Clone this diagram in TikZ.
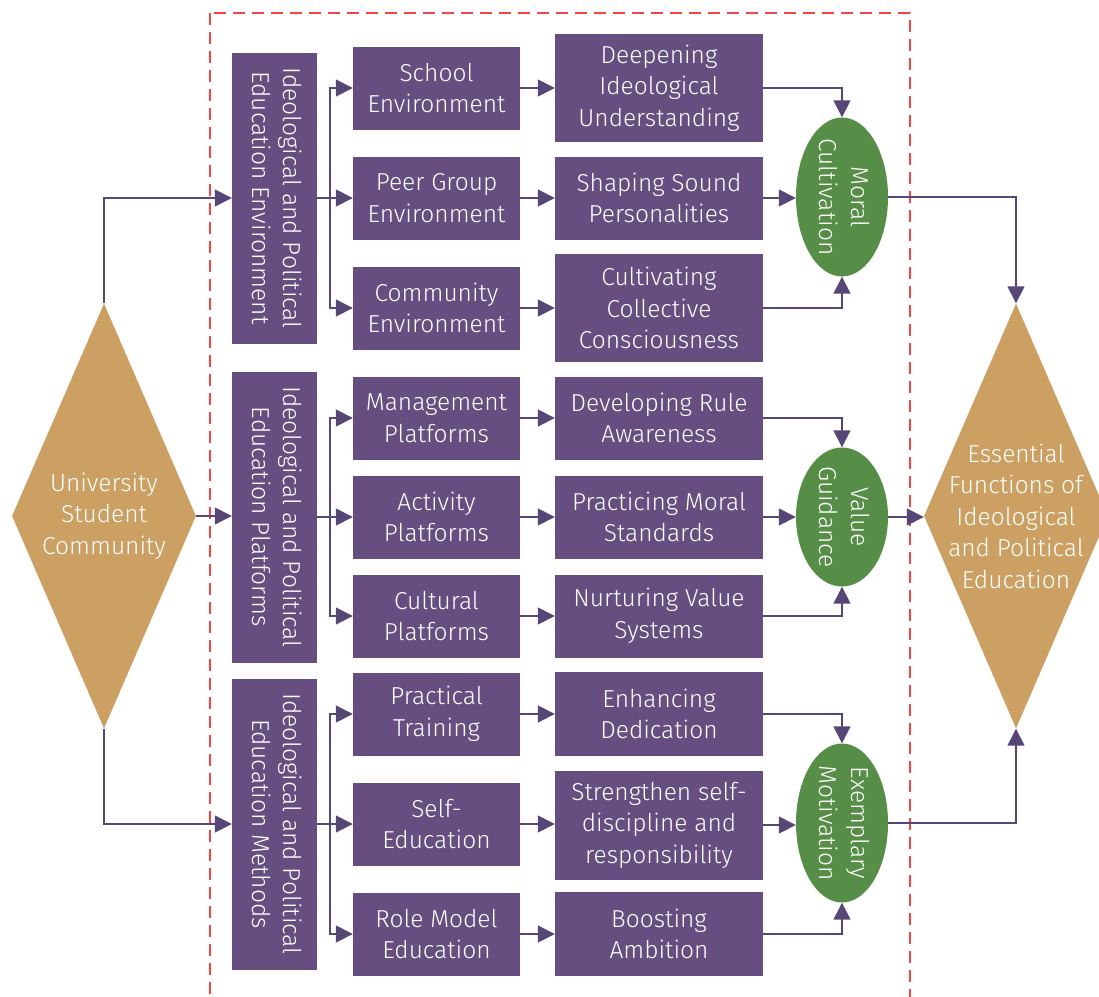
\documentclass[tikz,border=0pt]{standalone}
\usepackage{fontspec}
\setmainfont{Fira Sans Light}
\usepackage{graphicx}
\usetikzlibrary{arrows.meta, positioning, shapes.geometric}
\definecolor{plum}{HTML}{664F80}
\definecolor{wire}{HTML}{574777}
\definecolor{leaf}{HTML}{578E47}
\definecolor{sand}{HTML}{CBA062}
\definecolor{frame}{HTML}{F24444}
\newcommand{\vlabel}[1]{\rotatebox{-90}{\begin{tabular}{@{}c@{}}#1\end{tabular}}}

\begin{document}
\begin{tikzpicture}[x=1pt, y=-1pt,
    font=\fontsize{24.5}{31.5}\selectfont,
    say/.style={align=center, text=white},
    box/.style={rectangle, fill=plum, text=white, align=center, inner sep=0pt},
    hub/.style={ellipse, fill=leaf, minimum width=92pt, minimum height=159pt, inner sep=0pt},
    gem/.style={diamond, fill=sand, minimum width=184pt, minimum height=425pt, inner sep=0pt},
    link/.style={draw=wire, line width=1.5pt, -{Triangle[length=17pt, width=17pt]}}]
  \useasboundingbox (0,0) rectangle (1099,996);
  \clip (0,0) rectangle (1099,996);
  % dashed frame
  \draw[frame, line width=1.5pt, dash pattern=on 12pt off 7pt] (210,13) rectangle (910,1012);
  % start and goal
  \node[gem, label={[say]center:University\\Student\\Community}] (crowd) at (104,516) {};
  \node[gem, label={[say]center:Essential\\Functions of\\Ideological\\and Political\\Education}] (aim) at (1016,516) {};
  % first column
  \foreach \n/\y/\t in {env/198/{Ideological and Political\\Education Environment},
                        plat/517/{Ideological and Political\\Education Platforms},
                        meth/824/{Ideological and Political\\Education Methods}}
    \node[box, minimum width=85pt, minimum height=291pt] (\n) at (274.5,\y) {\vlabel{\t}};
  % second column
  \foreach \n/\y/\t in {school/88/{School\\Environment}, peer/198/{Peer Group\\Environment},
                        comm/308/{Community\\Environment}, mgmt/418/{Management\\Platforms},
                        act/517/{Activity\\Platforms}, cult/616/{Cultural\\Platforms},
                        prac/714/{Practical\\Training}, self/824/{Self-\\Education},
                        role/934/{Role Model\\Education}}
    \node[box, minimum width=167pt, minimum height=83pt] (\n) at (436.5,\y) {\t};
  % third column
  \foreach \n/\y/\h/\t in {deep/88/108/{Deepening\\Ideological\\Understanding},
                           sound/198/83/{Shaping Sound\\Personalities},
                           collect/308/108/{Cultivating\\Collective\\Consciousness},
                           rule/418/83/{Developing Rule\\Awareness},
                           moral/517/83/{Practicing Moral\\Standards},
                           nurture/616/83/{Nurturing Value\\Systems},
                           dedic/714/84/{Enhancing\\Dedication},
                           disc/825/109/{Strengthen self-\\discipline and\\responsibility},
                           ambit/934/84/{Boosting\\Ambition}}
    \node[box, minimum width=208pt, minimum height=\h pt] (\n) at (659,\y) {\t};
  % functions
  \node[hub, label={[say]center:\vlabel{Moral\\Cultivation}}] (cultiv) at (842,197) {};
  \node[hub, minimum height=139pt, label={[say]center:\vlabel{Value\\Guidance}}] (guide) at (842,517) {};
  \node[hub, label={[say]center:\vlabel{Exemplary\\Motivation}}] (motiv) at (842,823) {};
  % arrows
  \draw[link] (crowd.north) |- (env.west);
  \draw[link] (crowd.east) -- (crowd.east -| plat.west);
  \draw[link] (crowd.south) |- (meth.west);
  \foreach \a/\b in {env/school, env/peer, env/comm, plat/mgmt, plat/act, plat/cult,
                     meth/prac, meth/self, meth/role}
    \draw[link] (\a.east) -- ++(13,0) |- (\b.west);
  \foreach \a/\b in {school/deep, peer/sound, comm/collect, mgmt/rule, act/moral,
                     cult/nurture, prac/dedic, self/disc, role/ambit}
    \draw[link] (\a.east) -- (\a.east -| \b.west);
  \foreach \t/\m/\b/\g in {deep/sound/collect/cultiv, rule/moral/nurture/guide,
                           dedic/disc/ambit/motiv} {
    \draw[link] (\t.east) -| (\g.north);
    \draw[link] (\m.east) -- (\m.east -| \g.west);
    \draw[link] (\b.east) -| (\g.south);
  }
  \draw[link] (cultiv.east) -| (aim.north);
  \draw[link] (guide.east) -- (guide.east -| aim.west);
  \draw[link] (motiv.east) -| (aim.south);
\end{tikzpicture}
\end{document}
